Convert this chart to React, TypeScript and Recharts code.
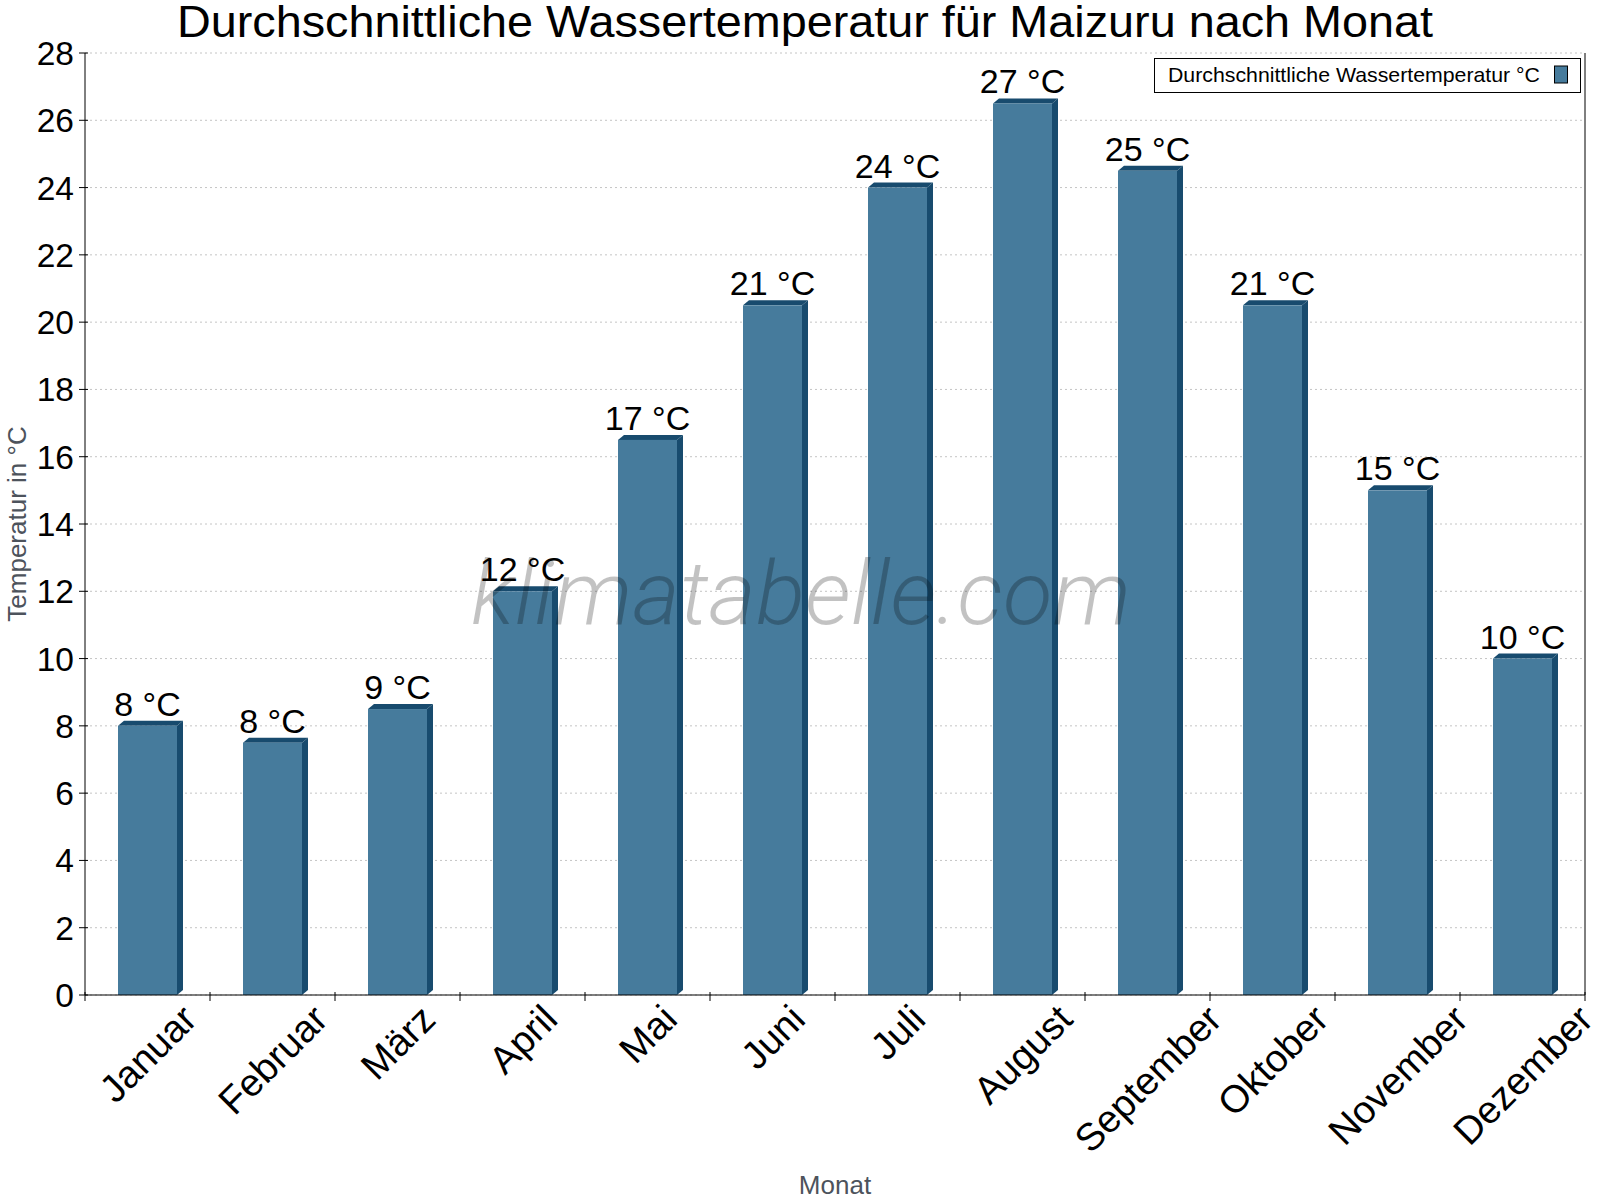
import React from 'react';
import { BarChart, Bar, XAxis, YAxis, CartesianGrid, Legend, LabelList, Label } from 'recharts';

const months = ['Januar', 'Februar', 'März', 'April', 'Mai', 'Juni', 'Juli', 'August', 'September', 'Oktober', 'November', 'Dezember'];
const waterTemp = [8, 7.5, 8.5, 12, 16.5, 20.5, 24, 26.5, 24.5, 20.5, 15, 10];
const yTicks = [0, 2, 4, 6, 8, 10, 12, 14, 16, 18, 20, 22, 24, 26, 28];

const seriesName = 'Durchschnittliche Wassertemperatur °C';
const title = 'Durchschnittliche Wassertemperatur für Maizuru nach Monat';

const data = months.map((m, i) => ({ month: m, temp: waterTemp[i] }));

const FONT = "'Liberation Sans', Arial, sans-serif";
const FRONT = '#467b9c';
const DARK = '#184b6e';

let ctx: CanvasRenderingContext2D | null = null;
function textWidth(s: string, size: number) {
  if (!ctx) ctx = document.createElement('canvas').getContext('2d');
  if (!ctx) return s.length * size * 0.55;
  ctx.font = `${size}px 'Liberation Sans'`;
  return ctx.measureText(s).width;
}

// bar with a small 3d side and top
function Bar3D(props: any) {
  const { x, y, width, height } = props;
  if (!height || height <= 0) return null;
  const d = 6;
  const e = 5;
  return (
    <g>
      <polygon
        points={`${x},${y} ${x + d},${y - e} ${x + width + d},${y - e} ${x + width},${y}`}
        fill={DARK}
      />
      <polygon
        points={`${x + width},${y} ${x + width + d},${y - e} ${x + width + d},${y + height - e} ${x + width},${y + height}`}
        fill={DARK}
      />
      <rect x={x} y={y} width={width} height={height} fill={FRONT} />
    </g>
  );
}

function XTick(props: any) {
  const { x, y, payload, index, visibleTicksCount, width } = props;
  const half = payload.offset || width / visibleTicksCount / 2;
  const size = 38.5;
  const L = textWidth(String(payload.value), size);
  const h = 0.716 * size;
  const px = x + 0.354 * h;
  const py = y + 7 + 0.354 * L + 0.707 * h;
  return (
    <g>
      <line x1={x - half} x2={x - half} y1={y - 3} y2={y + 6} stroke="#000" />
      {index === visibleTicksCount - 1 && (
        <line x1={x + half} x2={x + half} y1={y - 3} y2={y + 6} stroke="#000" />
      )}
      <text
        x={px}
        y={py}
        transform={`rotate(-45 ${px} ${py})`}
        textAnchor="middle"
        fontSize={size}
        fontFamily={FONT}
        fill="#000"
      >
        {payload.value}
      </text>
    </g>
  );
}

function YTick(props: any) {
  const { x, y, payload } = props;
  return (
    <g>
      <line x1={x - 6} x2={x + 3} y1={y} y2={y} stroke="#000" />
      <text x={x - 11} y={y + 12} textAnchor="end" fontSize={33.5} fontFamily={FONT} fill="#000">
        {payload.value}
      </text>
    </g>
  );
}

function ValueLabel(props: any) {
  const { x, y, width, value } = props;
  return (
    <text x={x + width / 2} y={y - 10} textAnchor="middle" fontSize={34} fontFamily={FONT} fill="#000">
      {`${Math.round(value)} °C`}
    </text>
  );
}

function LegendBox(props: any) {
  const item = props.payload && props.payload[0];
  const name = item ? item.value : seriesName;
  return (
    <svg width={428} height={36} style={{ display: 'block' }}>
      <rect x={0.5} y={0.5} width={426} height={34} fill="#fff" stroke="#000" />
      <text x={14} y={24} fontSize={21} fontFamily={FONT} fill="#000" textLength={372} lengthAdjust="spacingAndGlyphs">
        {name}
      </text>
      <rect x={400.5} y={8} width={13} height={17} fill={FRONT} stroke="#000" />
    </svg>
  );
}

export default function App() {
  return (
    <div style={{ position: 'absolute', left: 0, top: 0, width: 1600, height: 1200 }}>
      <BarChart width={1600} height={1200} data={data} margin={{ top: 53, right: 0, left: 0, bottom: 0 }}>
        <text
          x={805}
          y={37}
          textAnchor="middle"
          fontSize={45}
          fontFamily={FONT}
          fill="#000"
          textLength={1256}
          lengthAdjust="spacingAndGlyphs"
        >
          {title}
        </text>
        <CartesianGrid vertical={false} stroke="#c4c4c4" strokeDasharray="2 3" />
        <XAxis
          dataKey="month"
          interval={0}
          height={205}
          tickSize={0}
          tickMargin={0}
          tickLine={false}
          axisLine={{ stroke: '#000' }}
          tick={<XTick />}
        >
          <Label
            content={(p: any) => {
              const vb = p.viewBox;
              return (
                <text x={vb.x + vb.width / 2} y={vb.y + 199} textAnchor="middle" fontSize={26} fontFamily={FONT} fill="#4d535c">
                  Monat
                </text>
              );
            }}
          />
        </XAxis>
        <YAxis
          domain={[0, 28]}
          ticks={yTicks}
          width={85}
          tickSize={0}
          tickMargin={0}
          tickLine={false}
          axisLine={{ stroke: '#000' }}
          tick={<YTick />}
        >
          <Label
            content={(p: any) => {
              const vb = p.viewBox;
              const cx = vb.x + 26;
              const cy = vb.y + vb.height / 2;
              return (
                <text x={cx} y={cy} transform={`rotate(-90 ${cx} ${cy})`} textAnchor="middle" fontSize={26} fontFamily={FONT} fill="#4d535c">
                  Temperatur in °C
                </text>
              );
            }}
          />
        </YAxis>
        <YAxis yAxisId="right" orientation="right" domain={[0, 28]} width={15} tick={false} tickLine={false} axisLine={{ stroke: '#000' }} />
        <Legend
          layout="vertical"
          align="center"
          verticalAlign="middle"
          wrapperStyle={{ left: 1154, top: 58, width: 428, height: 36 }}
          content={<LegendBox />}
        />
        <Bar dataKey="temp" name={seriesName} fill={FRONT} barSize={59} shape={<Bar3D />} isAnimationActive={false}>
          <LabelList dataKey="temp" content={<ValueLabel />} />
        </Bar>
      </BarChart>
      <svg
        width={1600}
        height={1200}
        style={{ position: 'absolute', left: 0, top: 0, pointerEvents: 'none' }}
      >
        <text
          x={471}
          y={624}
          fontSize={88}
          fontFamily="Roboto, sans-serif"
          fontWeight={300}
          fontStyle="italic"
          fill="#000"
          fillOpacity={0.24}
          textLength={660}
          lengthAdjust="spacingAndGlyphs"
        >
          klimatabelle.com
        </text>
      </svg>
    </div>
  );
}
